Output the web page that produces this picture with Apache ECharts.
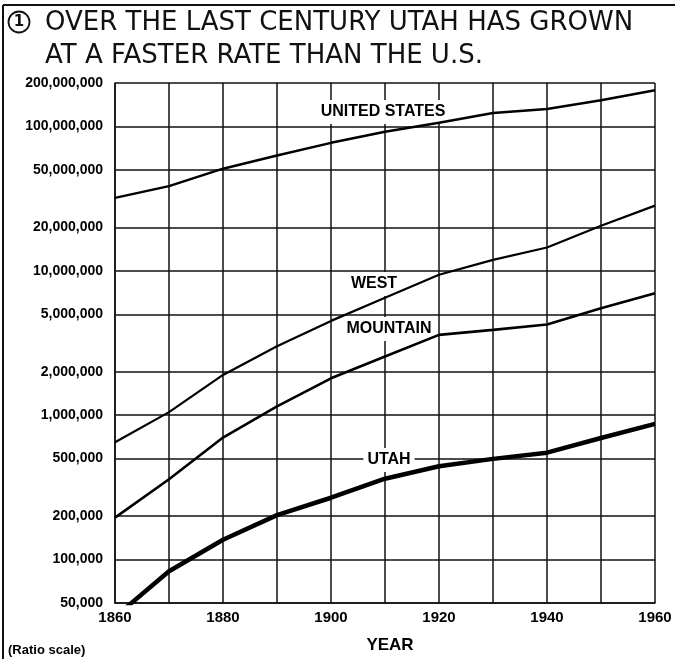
<!DOCTYPE html>
<html>
<head>
<meta charset="utf-8">
<title>Utah population growth</title>
<script src="https://cdn.jsdelivr.net/npm/echarts@6.0.0/dist/echarts.min.js"></script>
<style>
  html, body { margin: 0; padding: 0; background: #fff; }
  #chart { width: 675px; height: 659px; }
</style>
</head>
<body>
<div id="chart"></div>
<script>
// census years and populations
var years = [1860, 1870, 1880, 1890, 1900, 1910, 1920, 1930, 1940, 1950, 1960]
var unitedStates = [32000000, 38600000, 51000000, 63000000, 77000000, 92000000, 106000000, 124000000, 132000000, 152000000, 178000000]
var west = [650000, 1050000, 1900000, 3000000, 4500000, 6500000, 9400000, 11900000, 14500000, 20500000, 28300000]
var mountain = [195000, 360000, 700000, 1150000, 1800000, 2550000, 3600000, 3900000, 4250000, 5500000, 7000000]
var utah = [40000, 83000, 137000, 203000, 268000, 363000, 443000, 498000, 550000, 695000, 870000]
var yTicks = [50000, 100000, 200000, 500000, 1000000, 2000000, 5000000, 10000000, 20000000, 50000000, 100000000, 200000000]

var ink = '#111'
var labelFont = 'Liberation Sans'

function pairs(vals) {
  return years.map(function(y, i) {
    return [y, vals[i]]
  })
}

function lineSeries(name, vals, width) {
  return {
    name: name,
    type: 'line',
    symbol: 'none',
    clip: true,
    z: 3,
    lineStyle: { color: '#000', width: width },
    data: pairs(vals)
  }
}

// white-backed label that hides the grid but stays under the lines
function tag(text, x, y) {
  return {
    type: 'text',
    z: 1,
    x: x,
    y: y,
    style: {
      text: text,
      font: 'bold 16px "' + labelFont + '"',
      fill: '#000',
      align: 'center',
      verticalAlign: 'middle',
      backgroundColor: '#fff',
      padding: [4, 4]
    }
  }
}

var chart = echarts.init(document.getElementById('chart'))
chart.setOption({
  backgroundColor: '#fff',
  animation: false,
  grid: { left: 115, right: 20, top: 83, bottom: 56 },
  xAxis: {
    type: 'value',
    min: 1860,
    max: 1960,
    interval: 10,
    axisLine: { show: true, lineStyle: { color: ink, width: 1.5 } },
    axisTick: { show: false },
    splitLine: { show: true, lineStyle: { color: ink, width: 1.5 } },
    axisLabel: {
      margin: 7,
      color: '#000',
      fontFamily: labelFont,
      fontWeight: 'bold',
      fontSize: 15,
      formatter: function(v) {
        return (v - 1860) % 20 === 0 ? String(v) : ''
      }
    }
  },
  yAxis: {
    type: 'log',
    logBase: 10,
    min: 50000,
    max: 200000000,
    axisLine: { show: true, lineStyle: { color: ink, width: 1.5 } },
    axisTick: { show: false, customValues: yTicks },
    splitLine: { show: true, lineStyle: { color: ink, width: 1.5 } },
    axisLabel: {
      customValues: yTicks,
      margin: 12,
      color: '#000',
      fontFamily: labelFont,
      fontWeight: 'bold',
      fontSize: 14,
      formatter: function(v) {
        return Math.round(v).toLocaleString('en-US')
      }
    }
  },
  graphic: [
    { type: 'line', shape: { x1: 3, y1: 5, x2: 675, y2: 5 }, style: { stroke: ink, lineWidth: 2 } },
    { type: 'line', shape: { x1: 3, y1: 5, x2: 3, y2: 659 }, style: { stroke: ink, lineWidth: 2 } },
    { type: 'circle', shape: { cx: 19, cy: 22, r: 10.5 }, style: { fill: 'none', stroke: ink, lineWidth: 1.8 } },
    {
      type: 'text', x: 19, y: 22,
      style: { text: '1', font: 'bold 15px "DejaVu Sans"', fill: ink, align: 'center', verticalAlign: 'middle' }
    },
    {
      type: 'text', x: 45, y: 23,
      style: { text: 'OVER THE LAST CENTURY UTAH HAS GROWN', font: '26px "DejaVu Sans"', fill: ink, verticalAlign: 'middle' }
    },
    {
      type: 'text', x: 45, y: 56,
      style: { text: 'AT A FASTER RATE THAN THE U.S.', font: '26px "DejaVu Sans"', fill: ink, verticalAlign: 'middle' }
    },
    tag('UNITED STATES', 383, 112),
    tag('WEST', 374, 284),
    tag('MOUNTAIN', 389, 329),
    tag('UTAH', 389, 460),
    {
      type: 'text', x: 390, y: 645,
      style: { text: 'YEAR', font: 'bold 17px "' + labelFont + '"', fill: '#000', align: 'center', verticalAlign: 'middle' }
    },
    {
      type: 'text', x: 8, y: 650,
      style: { text: '(Ratio scale)', font: 'bold 13px "' + labelFont + '"', fill: '#000', verticalAlign: 'middle' }
    }
  ],
  series: [
    lineSeries('United States', unitedStates, 2.5),
    lineSeries('West', west, 2.2),
    lineSeries('Mountain', mountain, 2.6),
    lineSeries('Utah', utah, 4.5)
  ]
})
</script>
</body>
</html>
